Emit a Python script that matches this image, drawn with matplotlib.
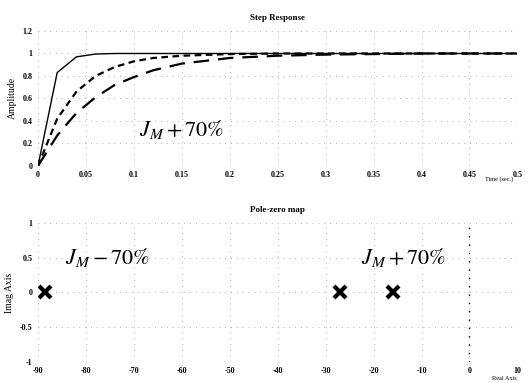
import matplotlib.pyplot as plt

plt.rcParams['font.family'] = ['Liberation Serif', 'DejaVu Serif']
plt.rcParams['mathtext.fontset'] = 'stix'

# step responses
t_fast = [0, 0.02, 0.04, 0.06, 0.08, 0.1, 0.2, 0.3, 0.4, 0.5]
y_fast = [0, 0.83, 0.97, 0.995, 1.0, 1.0, 1.0, 1.0, 1.0, 1.0]

t_mid = [0, 0.02, 0.04, 0.06, 0.08, 0.1, 0.12, 0.15, 0.2, 0.25, 0.3, 0.4, 0.5]
y_mid = [0, 0.42, 0.66, 0.80, 0.88, 0.93, 0.96, 0.98, 0.995, 1.0, 1.0, 1.0, 1.0]

t_slow = [0, 0.02, 0.04, 0.06, 0.08, 0.1, 0.12, 0.15, 0.2, 0.25, 0.3, 0.4, 0.5]
y_slow = [0, 0.27, 0.47, 0.61, 0.72, 0.79, 0.85, 0.91, 0.96, 0.98, 0.99, 1.0, 1.0]

# poles
poles_re = [-88.5, -27, -16]
poles_im = [0, 0, 0]

step_xticks = [0, 0.05, 0.1, 0.15, 0.2, 0.25, 0.3, 0.35, 0.4, 0.45, 0.5]
step_xlabels = ['0', '0.05', '0.1', '0.15', '0.2', '0.25', '0.3', '0.35', '0.4', '0.45', '0.5']
step_yticks = [0, 0.2, 0.4, 0.6, 0.8, 1, 1.2]
step_ylabels = ['0', '0.2', '0.4', '0.6', '0.8', '1', '1.2']
pz_xticks = [-90, -80, -70, -60, -50, -40, -30, -20, -10, 0, 10]
pz_yticks = [-1, -0.5, 0, 0.5, 1]
pz_ylabels = ['-1', '-0.5', '0', '0.5', '1']

fig = plt.figure(figsize=(5.28, 3.83), dpi=100)
ax1 = fig.add_axes([0.072, 0.567, 0.908, 0.352])
ax2 = fig.add_axes([0.072, 0.055, 0.908, 0.363])

tick_font = dict(fontsize=5.8, fontweight='bold')

for ax in (ax1, ax2):
    for s in ax.spines.values():
        s.set_visible(False)
    ax.tick_params(length=0, pad=4)
    ax.grid(True, linestyle=(0, (1, 6)), color='#999999', linewidth=0.6)

# top: step response
ax1.plot(t_fast, y_fast, color='black', linewidth=1.0)
ax1.plot(t_mid, y_mid, color='black', linewidth=1.6, linestyle=(0, (3, 2)))
ax1.plot(t_slow, y_slow, color='black', linewidth=1.6, linestyle=(0, (7, 4)))
ax1.set_xlim(0, 0.5)
ax1.set_ylim(0, 1.2)
ax1.set_xticks(step_xticks)
ax1.set_xticklabels(step_xlabels, **tick_font)
ax1.set_yticks(step_yticks)
ax1.set_yticklabels(step_ylabels, **tick_font)
ax1.set_title('Step Response', fontsize=6.5, fontweight='bold', pad=8)
ax1.set_ylabel('Amplitude', fontsize=7, labelpad=4)
ax1.text(0.15, 0.32, r'$J_M + 70\%$', fontsize=16, ha='center', va='center')
fig.text(0.945, 0.533, 'Time (sec.)', fontsize=4.5, ha='center', va='center')

# bottom: pole-zero map
ax2.axvline(0, color='black', linestyle=(0, (1, 5)), linewidth=1.0)
ax2.plot(poles_re, poles_im, linestyle='none', marker='x', color='black',
         markersize=9, markeredgewidth=3)
ax2.set_xlim(-90, 10)
ax2.set_ylim(-1, 1)
ax2.set_xticks(pz_xticks)
ax2.set_xticklabels([str(v) for v in pz_xticks], **tick_font)
ax2.set_yticks(pz_yticks)
ax2.set_yticklabels(pz_ylabels, **tick_font)
ax2.set_title('Pole-zero map', fontsize=6.5, fontweight='bold', pad=8)
ax2.set_ylabel('Imag Axis', fontsize=7, labelpad=4)
ax2.text(-75.5, 0.5, r'$J_M - 70\%$', fontsize=16, ha='center', va='center')
ax2.text(-13.8, 0.5, r'$J_M + 70\%$', fontsize=16, ha='center', va='center')
fig.text(0.955, 0.012, 'Real Axis', fontsize=4.5, ha='center', va='center')

fig.savefig('out.png', dpi=100)
